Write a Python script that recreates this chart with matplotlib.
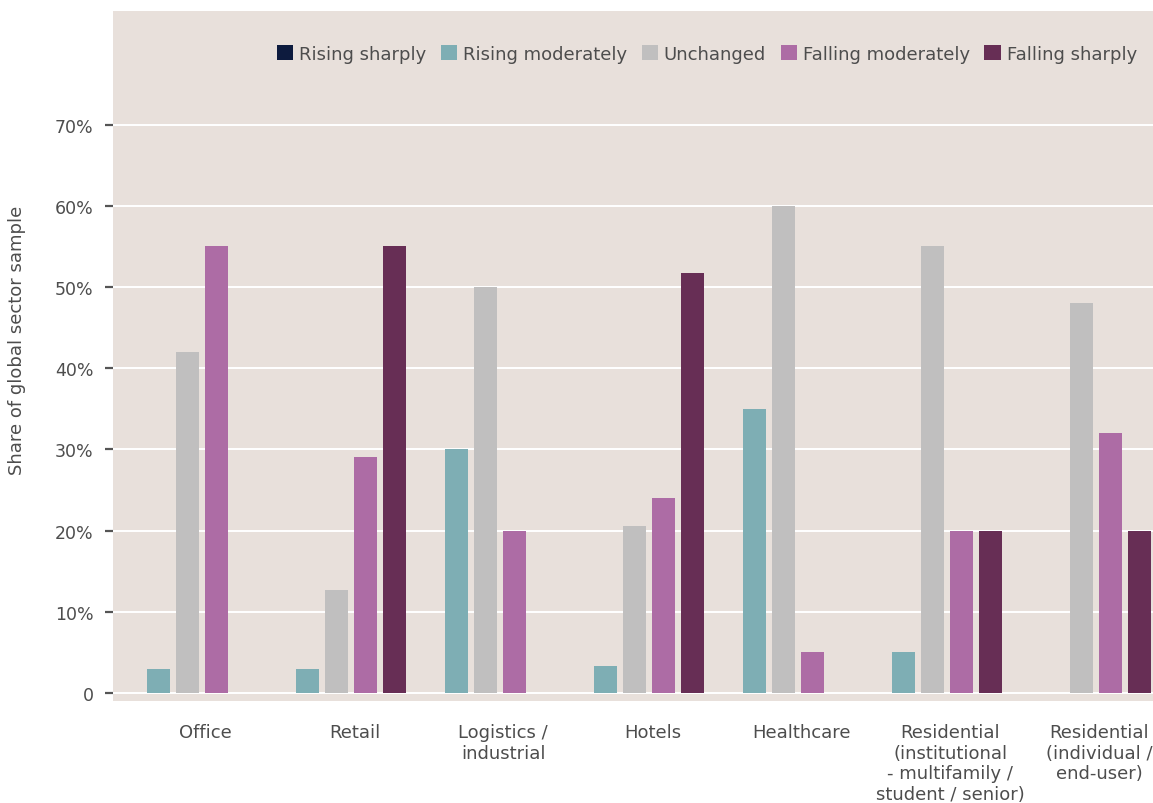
import numpy as np
import matplotlib.pyplot as plt

# ------------------------------------------------------------
# Data
# ------------------------------------------------------------
categories = ["Office", "Retail", "Logistics /\nindustrial", "Hotels", "Healthcare",
              "Residential\n(institutional\n- multifamily /\nstudent / senior)",
              "Residential\n(individual /\nend-user)"]
series = ["Rising sharply", "Rising moderately", "Unchanged",
          "Falling moderately", "Falling sharply"]

rising_sharply = [0, 0, 0, 0, 0, 0, 0]
rising_moderately = [3, 3, 30, 3.3, 35, 5, 0]
unchanged = [42, 12.7, 50, 20.5, 60, 55, 48]
falling_moderately = [55, 29, 20, 24, 5, 20, 32]
falling_sharply = [0, 55, 0, 51.7, 0, 20, 20]

colors = ["#0d1b3e", "#7eaeb4", "#c0bfbf", "#ad6ca5", "#672e55"]
yticks = [0, 10, 20, 30, 40, 50, 60, 70]
ytick_labels = ["0", "10%", "20%", "30%", "40%", "50%", "60%", "70%"]

# ------------------------------------------------------------
# Plot
# ------------------------------------------------------------
plt.rcParams["font.family"] = ["DejaVu Sans"]
text_col = "#4d4d4d"
fs = 13

fig = plt.figure(figsize=(11.53, 8.04), dpi=100)
ax = fig.add_axes([113 / 1153, 102 / 804, 1 - 113 / 1153, (702 - 12) / 804])
ax.set_facecolor("#e8e0db")

x = np.arange(len(categories))
values = [rising_sharply, rising_moderately, unchanged, falling_moderately, falling_sharply]
slot = 0.195
width = 0.15
for i, (name, vals) in enumerate(zip(series, values)):
    ax.bar(x + (i - 2) * slot, vals, width, color=colors[i], label=name,
           linewidth=0, zorder=3)

ax.set_xlim(-0.5, 6.48)
ax.set_ylim(-1, 84)
ax.set_yticks(yticks)
ax.set_yticklabels(ytick_labels)
ax.grid(axis="y", color="white", linewidth=1.4, zorder=1)
ax.set_axisbelow(True)

ax.set_xticks(x + 0.12)
ax.set_xticklabels(categories, linespacing=1.18)
ax.tick_params(axis="x", length=0, pad=16, labelsize=fs, labelcolor=text_col)
ax.tick_params(axis="y", length=6, width=1.6, color="#555555", pad=8,
               labelsize=12.5, labelcolor=text_col)

for s in ax.spines.values():
    s.set_visible(False)

fig.text(17 / 1153, 1 - 340 / 804, "Share of global sector sample", rotation=90,
         ha="center", va="center", fontsize=fs, color=text_col)

ax.legend(loc="upper right", ncol=5, frameon=False, fontsize=fs,
          handlelength=0.9, handleheight=0.9, handletextpad=0.33,
          columnspacing=0.8, bbox_to_anchor=(1.0, 0.975),
          labelcolor=text_col)

fig.savefig("out.png", dpi=100)
